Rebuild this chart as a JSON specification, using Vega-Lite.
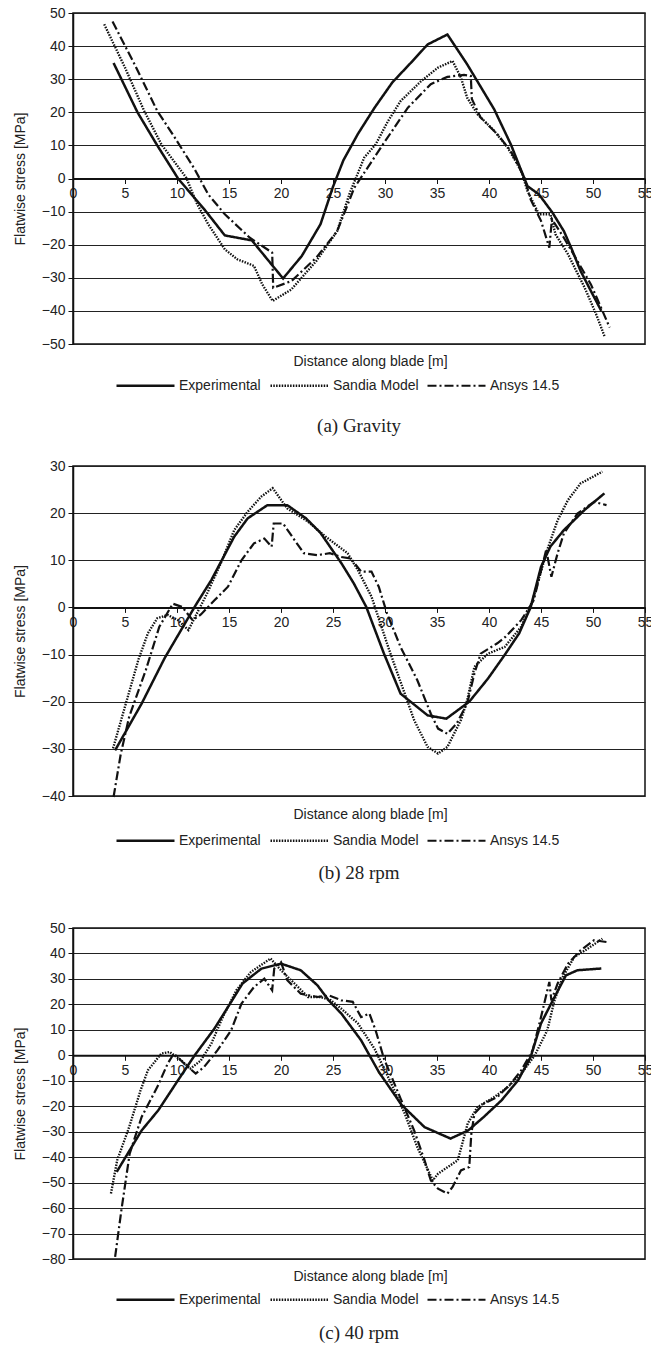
{
  "$schema": "https://vega.github.io/schema/vega-lite/v6.json",
  "padding": {"left": 12, "top": 5, "right": 0, "bottom": 0},
  "background": "white",
  "datasets": {
    "a": [
      {"series": "Experimental", "x": 3.9, "y": 34.9},
      {"series": "Experimental", "x": 6.2, "y": 20},
      {"series": "Experimental", "x": 8.1, "y": 10},
      {"series": "Experimental", "x": 10.1, "y": 0},
      {"series": "Experimental", "x": 12.7, "y": -9.6},
      {"series": "Experimental", "x": 14.6, "y": -17.2},
      {"series": "Experimental", "x": 17.2, "y": -18.7},
      {"series": "Experimental", "x": 20.2, "y": -30.2},
      {"series": "Experimental", "x": 22.0, "y": -23.4},
      {"series": "Experimental", "x": 23.8, "y": -13.8},
      {"series": "Experimental", "x": 25.0, "y": -2.5},
      {"series": "Experimental", "x": 26.0, "y": 5.5},
      {"series": "Experimental", "x": 27.4, "y": 13.5},
      {"series": "Experimental", "x": 29.0, "y": 21.4},
      {"series": "Experimental", "x": 30.7, "y": 29},
      {"series": "Experimental", "x": 32.5, "y": 35},
      {"series": "Experimental", "x": 34.1, "y": 40.5},
      {"series": "Experimental", "x": 36.0, "y": 43.5},
      {"series": "Experimental", "x": 37.9, "y": 34.5},
      {"series": "Experimental", "x": 40.5, "y": 20.9},
      {"series": "Experimental", "x": 42.1, "y": 10.3},
      {"series": "Experimental", "x": 43.7, "y": -2.3},
      {"series": "Experimental", "x": 44.8, "y": -4.8},
      {"series": "Experimental", "x": 46.1, "y": -10.3},
      {"series": "Experimental", "x": 47.2, "y": -15.9},
      {"series": "Experimental", "x": 47.9, "y": -20.9},
      {"series": "Experimental", "x": 48.8, "y": -27.9},
      {"series": "Experimental", "x": 49.8, "y": -34},
      {"series": "Experimental", "x": 50.8, "y": -40},
      {"series": "Sandia Model", "x": 3.0, "y": 46.6},
      {"series": "Sandia Model", "x": 5.0, "y": 33.5},
      {"series": "Sandia Model", "x": 6.85, "y": 20.4},
      {"series": "Sandia Model", "x": 8.5, "y": 10.3},
      {"series": "Sandia Model", "x": 10.9, "y": 0.2},
      {"series": "Sandia Model", "x": 11.9, "y": -7.5},
      {"series": "Sandia Model", "x": 13.0, "y": -13.8},
      {"series": "Sandia Model", "x": 14.6, "y": -21.4},
      {"series": "Sandia Model", "x": 15.8, "y": -24.4},
      {"series": "Sandia Model", "x": 17.4, "y": -26.4},
      {"series": "Sandia Model", "x": 18.2, "y": -32},
      {"series": "Sandia Model", "x": 19.2, "y": -37},
      {"series": "Sandia Model", "x": 21.0, "y": -33.5},
      {"series": "Sandia Model", "x": 23.4, "y": -24.9},
      {"series": "Sandia Model", "x": 25.4, "y": -15.9},
      {"series": "Sandia Model", "x": 26.6, "y": -4.5},
      {"series": "Sandia Model", "x": 28.0, "y": 6.3},
      {"series": "Sandia Model", "x": 29.1, "y": 10.3},
      {"series": "Sandia Model", "x": 30.3, "y": 17.4},
      {"series": "Sandia Model", "x": 31.5, "y": 23.4},
      {"series": "Sandia Model", "x": 33.5, "y": 29.5},
      {"series": "Sandia Model", "x": 35.1, "y": 33.5},
      {"series": "Sandia Model", "x": 36.5, "y": 35.5},
      {"series": "Sandia Model", "x": 37.3, "y": 30.5},
      {"series": "Sandia Model", "x": 37.9, "y": 24.4},
      {"series": "Sandia Model", "x": 38.9, "y": 19.4},
      {"series": "Sandia Model", "x": 40.5, "y": 14.4},
      {"series": "Sandia Model", "x": 41.8, "y": 9.3},
      {"series": "Sandia Model", "x": 43.1, "y": 2.3},
      {"series": "Sandia Model", "x": 43.7, "y": -3.8},
      {"series": "Sandia Model", "x": 44.5, "y": -8.8},
      {"series": "Sandia Model", "x": 44.8, "y": -10.8},
      {"series": "Sandia Model", "x": 45.9, "y": -10.8},
      {"series": "Sandia Model", "x": 46.4, "y": -16.9},
      {"series": "Sandia Model", "x": 47.6, "y": -22.9},
      {"series": "Sandia Model", "x": 49.2, "y": -33},
      {"series": "Sandia Model", "x": 50.3, "y": -41},
      {"series": "Sandia Model", "x": 51.1, "y": -47.6},
      {"series": "Ansys 14.5", "x": 3.8, "y": 47.4},
      {"series": "Ansys 14.5", "x": 6.0, "y": 34},
      {"series": "Ansys 14.5", "x": 8.1, "y": 20.4},
      {"series": "Ansys 14.5", "x": 9.7, "y": 12.8},
      {"series": "Ansys 14.5", "x": 11.7, "y": 2.8},
      {"series": "Ansys 14.5", "x": 13.0, "y": -4.8},
      {"series": "Ansys 14.5", "x": 14.6, "y": -10.8},
      {"series": "Ansys 14.5", "x": 17.0, "y": -17.9},
      {"series": "Ansys 14.5", "x": 19.15, "y": -22.4},
      {"series": "Ansys 14.5", "x": 19.25, "y": -33},
      {"series": "Ansys 14.5", "x": 21.0, "y": -31},
      {"series": "Ansys 14.5", "x": 23.4, "y": -23.9},
      {"series": "Ansys 14.5", "x": 25.4, "y": -15.9},
      {"series": "Ansys 14.5", "x": 27.05, "y": -2.8},
      {"series": "Ansys 14.5", "x": 29.8, "y": 10.3},
      {"series": "Ansys 14.5", "x": 32.2, "y": 21.4},
      {"series": "Ansys 14.5", "x": 34.4, "y": 28.5},
      {"series": "Ansys 14.5", "x": 36.0, "y": 30.7},
      {"series": "Ansys 14.5", "x": 37.6, "y": 31.3},
      {"series": "Ansys 14.5", "x": 38.25, "y": 31},
      {"series": "Ansys 14.5", "x": 38.35, "y": 24},
      {"series": "Ansys 14.5", "x": 39.2, "y": 18.4},
      {"series": "Ansys 14.5", "x": 40.8, "y": 13.4},
      {"series": "Ansys 14.5", "x": 42.1, "y": 8.3},
      {"series": "Ansys 14.5", "x": 43.4, "y": 0.2},
      {"series": "Ansys 14.5", "x": 44.0, "y": -6.3},
      {"series": "Ansys 14.5", "x": 45.0, "y": -12.8},
      {"series": "Ansys 14.5", "x": 45.8, "y": -20.9},
      {"series": "Ansys 14.5", "x": 46.05, "y": -12.3},
      {"series": "Ansys 14.5", "x": 47.2, "y": -17.9},
      {"series": "Ansys 14.5", "x": 48.5, "y": -24.9},
      {"series": "Ansys 14.5", "x": 49.8, "y": -32},
      {"series": "Ansys 14.5", "x": 51.6, "y": -45}
    ],
    "b": [
      {"series": "Experimental", "x": 4.05, "y": -30.3},
      {"series": "Experimental", "x": 6.6, "y": -20.4},
      {"series": "Experimental", "x": 8.8, "y": -10.8},
      {"series": "Experimental", "x": 11.8, "y": 0.5},
      {"series": "Experimental", "x": 13.3, "y": 5.8},
      {"series": "Experimental", "x": 14.4, "y": 10.4},
      {"series": "Experimental", "x": 15.5, "y": 15},
      {"series": "Experimental", "x": 16.8, "y": 18.9},
      {"series": "Experimental", "x": 18.7, "y": 21.7},
      {"series": "Experimental", "x": 20.6, "y": 21.7},
      {"series": "Experimental", "x": 22.4, "y": 18.9},
      {"series": "Experimental", "x": 23.8, "y": 15.8},
      {"series": "Experimental", "x": 24.8, "y": 12.6},
      {"series": "Experimental", "x": 25.8, "y": 9.4},
      {"series": "Experimental", "x": 27.0, "y": 5.1},
      {"series": "Experimental", "x": 28.2, "y": 0.1},
      {"series": "Experimental", "x": 29.9, "y": -9.8},
      {"series": "Experimental", "x": 31.5, "y": -18.3},
      {"series": "Experimental", "x": 34.1, "y": -22.9},
      {"series": "Experimental", "x": 35.9, "y": -23.6},
      {"series": "Experimental", "x": 38.1, "y": -20.0},
      {"series": "Experimental", "x": 39.9, "y": -15.1},
      {"series": "Experimental", "x": 41.5, "y": -10.1},
      {"series": "Experimental", "x": 42.9, "y": -5.5},
      {"series": "Experimental", "x": 44.0, "y": 0},
      {"series": "Experimental", "x": 45.0, "y": 8.6},
      {"series": "Experimental", "x": 45.9, "y": 12.9},
      {"series": "Experimental", "x": 47.2, "y": 16.4},
      {"series": "Experimental", "x": 49.2, "y": 20.7},
      {"series": "Experimental", "x": 51.1, "y": 24.2},
      {"series": "Sandia Model", "x": 3.85, "y": -29.9},
      {"series": "Sandia Model", "x": 4.9, "y": -21.8},
      {"series": "Sandia Model", "x": 6.3, "y": -11},
      {"series": "Sandia Model", "x": 7.2, "y": -5.5},
      {"series": "Sandia Model", "x": 8.1, "y": -2.3},
      {"series": "Sandia Model", "x": 9.1, "y": -1.6},
      {"series": "Sandia Model", "x": 10.1, "y": -2.7},
      {"series": "Sandia Model", "x": 11.1, "y": -4.8},
      {"series": "Sandia Model", "x": 12.9, "y": 3.0},
      {"series": "Sandia Model", "x": 14.2, "y": 9.3},
      {"series": "Sandia Model", "x": 15.5, "y": 16.4},
      {"series": "Sandia Model", "x": 16.8, "y": 20.3},
      {"series": "Sandia Model", "x": 18.1, "y": 23.5},
      {"series": "Sandia Model", "x": 19.2, "y": 25.3},
      {"series": "Sandia Model", "x": 20.6, "y": 21.0},
      {"series": "Sandia Model", "x": 22.6, "y": 18.2},
      {"series": "Sandia Model", "x": 24.3, "y": 15.0},
      {"series": "Sandia Model", "x": 26.4, "y": 11.5},
      {"series": "Sandia Model", "x": 27.4, "y": 7.9},
      {"series": "Sandia Model", "x": 28.7, "y": 2.3},
      {"series": "Sandia Model", "x": 30.4, "y": -9},
      {"series": "Sandia Model", "x": 31.9, "y": -18.3},
      {"series": "Sandia Model", "x": 32.8, "y": -23.9},
      {"series": "Sandia Model", "x": 34.1, "y": -29.6},
      {"series": "Sandia Model", "x": 35.1, "y": -31.0},
      {"series": "Sandia Model", "x": 36.0, "y": -29.6},
      {"series": "Sandia Model", "x": 37.3, "y": -23.9},
      {"series": "Sandia Model", "x": 37.9, "y": -19.7},
      {"series": "Sandia Model", "x": 38.6, "y": -12.6},
      {"series": "Sandia Model", "x": 39.9, "y": -9.8},
      {"series": "Sandia Model", "x": 41.5, "y": -8.4},
      {"series": "Sandia Model", "x": 43.1, "y": -4.1},
      {"series": "Sandia Model", "x": 44.2, "y": 1.5},
      {"series": "Sandia Model", "x": 45.6, "y": 12.2},
      {"series": "Sandia Model", "x": 46.6, "y": 18.5},
      {"series": "Sandia Model", "x": 47.6, "y": 22.8},
      {"series": "Sandia Model", "x": 48.8, "y": 26.3},
      {"series": "Sandia Model", "x": 50.9, "y": 28.8},
      {"series": "Ansys 14.5", "x": 3.9, "y": -40.2},
      {"series": "Ansys 14.5", "x": 4.6, "y": -31},
      {"series": "Ansys 14.5", "x": 5.4, "y": -23.2},
      {"series": "Ansys 14.5", "x": 7.0, "y": -13.3},
      {"series": "Ansys 14.5", "x": 8.3, "y": -4.1},
      {"series": "Ansys 14.5", "x": 9.6, "y": 0.8},
      {"series": "Ansys 14.5", "x": 10.5, "y": 0.1},
      {"series": "Ansys 14.5", "x": 11.5, "y": -2.7},
      {"series": "Ansys 14.5", "x": 12.3, "y": -1.5},
      {"series": "Ansys 14.5", "x": 13.6, "y": 1.5},
      {"series": "Ansys 14.5", "x": 14.9, "y": 4.4},
      {"series": "Ansys 14.5", "x": 16.2, "y": 10},
      {"series": "Ansys 14.5", "x": 17.4, "y": 13.6},
      {"series": "Ansys 14.5", "x": 18.4, "y": 14.6},
      {"series": "Ansys 14.5", "x": 19.1, "y": 12.9},
      {"series": "Ansys 14.5", "x": 19.3, "y": 17.8},
      {"series": "Ansys 14.5", "x": 20.2, "y": 17.8},
      {"series": "Ansys 14.5", "x": 21.3, "y": 14.3},
      {"series": "Ansys 14.5", "x": 22.2, "y": 11.5},
      {"series": "Ansys 14.5", "x": 23.5, "y": 11.1},
      {"series": "Ansys 14.5", "x": 24.7, "y": 11.5},
      {"series": "Ansys 14.5", "x": 25.8, "y": 10.7},
      {"series": "Ansys 14.5", "x": 26.7, "y": 10.4},
      {"series": "Ansys 14.5", "x": 27.7, "y": 7.6},
      {"series": "Ansys 14.5", "x": 28.7, "y": 7.6},
      {"series": "Ansys 14.5", "x": 29.4, "y": 4.4},
      {"series": "Ansys 14.5", "x": 30.2, "y": -1.3},
      {"series": "Ansys 14.5", "x": 31.5, "y": -8.4},
      {"series": "Ansys 14.5", "x": 33.1, "y": -15.4},
      {"series": "Ansys 14.5", "x": 34.4, "y": -22.5},
      {"series": "Ansys 14.5", "x": 35.1, "y": -25.7},
      {"series": "Ansys 14.5", "x": 36.0, "y": -26.8},
      {"series": "Ansys 14.5", "x": 36.9, "y": -24.6},
      {"series": "Ansys 14.5", "x": 37.9, "y": -20.4},
      {"series": "Ansys 14.5", "x": 38.6, "y": -14.0},
      {"series": "Ansys 14.5", "x": 39.2, "y": -9.8},
      {"series": "Ansys 14.5", "x": 40.8, "y": -7.6},
      {"series": "Ansys 14.5", "x": 41.6, "y": -6.2},
      {"series": "Ansys 14.5", "x": 43.1, "y": -2.7},
      {"series": "Ansys 14.5", "x": 44.3, "y": 1.5},
      {"series": "Ansys 14.5", "x": 45.5, "y": 12.2},
      {"series": "Ansys 14.5", "x": 46.0, "y": 6.5},
      {"series": "Ansys 14.5", "x": 46.6, "y": 11.5},
      {"series": "Ansys 14.5", "x": 47.2, "y": 15.7},
      {"series": "Ansys 14.5", "x": 48.5, "y": 19.9},
      {"series": "Ansys 14.5", "x": 50.1, "y": 22.4},
      {"series": "Ansys 14.5", "x": 51.3, "y": 21.7}
    ],
    "c": [
      {"series": "Experimental", "x": 4.2, "y": -45.8},
      {"series": "Experimental", "x": 6.6, "y": -29.5},
      {"series": "Experimental", "x": 8.2, "y": -21.6},
      {"series": "Experimental", "x": 10.1, "y": -9.8},
      {"series": "Experimental", "x": 11.7, "y": 0},
      {"series": "Experimental", "x": 13.6, "y": 10.5},
      {"series": "Experimental", "x": 15.0, "y": 19.6},
      {"series": "Experimental", "x": 16.3, "y": 28.2},
      {"series": "Experimental", "x": 18.1, "y": 34.0},
      {"series": "Experimental", "x": 20.0, "y": 36.0},
      {"series": "Experimental", "x": 21.9, "y": 33.4},
      {"series": "Experimental", "x": 23.5, "y": 27.5},
      {"series": "Experimental", "x": 24.6, "y": 21.5},
      {"series": "Experimental", "x": 25.8, "y": 16.4},
      {"series": "Experimental", "x": 27.7, "y": 5.9},
      {"series": "Experimental", "x": 29.4, "y": -6.5},
      {"series": "Experimental", "x": 31.6, "y": -19.5},
      {"series": "Experimental", "x": 33.8, "y": -28.2},
      {"series": "Experimental", "x": 36.3, "y": -32.7},
      {"series": "Experimental", "x": 38.0, "y": -29.5},
      {"series": "Experimental", "x": 39.5, "y": -24.2},
      {"series": "Experimental", "x": 41.2, "y": -17.7},
      {"series": "Experimental", "x": 42.8, "y": -9.8},
      {"series": "Experimental", "x": 44.0, "y": -0.7},
      {"series": "Experimental", "x": 45.0, "y": 12.5},
      {"series": "Experimental", "x": 46.3, "y": 22.9},
      {"series": "Experimental", "x": 47.4, "y": 31.4},
      {"series": "Experimental", "x": 48.5, "y": 33.4},
      {"series": "Experimental", "x": 50.8, "y": 34.1},
      {"series": "Sandia Model", "x": 3.65, "y": -54.3},
      {"series": "Sandia Model", "x": 4.25, "y": -41.2},
      {"series": "Sandia Model", "x": 5.4, "y": -28.2},
      {"series": "Sandia Model", "x": 6.5, "y": -13.7},
      {"series": "Sandia Model", "x": 7.2, "y": -5.9},
      {"series": "Sandia Model", "x": 8.5, "y": 0.7},
      {"series": "Sandia Model", "x": 9.3, "y": 1.3},
      {"series": "Sandia Model", "x": 10.4, "y": -2},
      {"series": "Sandia Model", "x": 11.3, "y": -5.2},
      {"series": "Sandia Model", "x": 12.3, "y": -2},
      {"series": "Sandia Model", "x": 13.3, "y": 4.6},
      {"series": "Sandia Model", "x": 14.4, "y": 15.0},
      {"series": "Sandia Model", "x": 15.7, "y": 25.5},
      {"series": "Sandia Model", "x": 17.1, "y": 32.7},
      {"series": "Sandia Model", "x": 19.0, "y": 38.0},
      {"series": "Sandia Model", "x": 20.0, "y": 33.4},
      {"series": "Sandia Model", "x": 21.3, "y": 28.2},
      {"series": "Sandia Model", "x": 22.6, "y": 22.9},
      {"series": "Sandia Model", "x": 23.8, "y": 22.9},
      {"series": "Sandia Model", "x": 24.8, "y": 21.6},
      {"series": "Sandia Model", "x": 25.8, "y": 18.3},
      {"series": "Sandia Model", "x": 27.4, "y": 12.5},
      {"series": "Sandia Model", "x": 29.0, "y": 2.5},
      {"series": "Sandia Model", "x": 30.6, "y": -11.1},
      {"series": "Sandia Model", "x": 31.9, "y": -22.9},
      {"series": "Sandia Model", "x": 33.1, "y": -36.0},
      {"series": "Sandia Model", "x": 34.6, "y": -49.1},
      {"series": "Sandia Model", "x": 35.1, "y": -46.5},
      {"series": "Sandia Model", "x": 37.0, "y": -41.2},
      {"series": "Sandia Model", "x": 37.95, "y": -26.8},
      {"series": "Sandia Model", "x": 38.9, "y": -20.3},
      {"series": "Sandia Model", "x": 40.5, "y": -16.4},
      {"series": "Sandia Model", "x": 41.8, "y": -12.5},
      {"series": "Sandia Model", "x": 43.1, "y": -7.2},
      {"series": "Sandia Model", "x": 44.4, "y": 0},
      {"series": "Sandia Model", "x": 45.6, "y": 9.8},
      {"series": "Sandia Model", "x": 46.3, "y": 21.6},
      {"series": "Sandia Model", "x": 47.1, "y": 30.8},
      {"series": "Sandia Model", "x": 48.2, "y": 38.6},
      {"series": "Sandia Model", "x": 49.5, "y": 41.9},
      {"series": "Sandia Model", "x": 50.9, "y": 45.8},
      {"series": "Ansys 14.5", "x": 4.05, "y": -79.2},
      {"series": "Ansys 14.5", "x": 4.65, "y": -60.9},
      {"series": "Ansys 14.5", "x": 5.45, "y": -38.6},
      {"series": "Ansys 14.5", "x": 6.6, "y": -24.2},
      {"series": "Ansys 14.5", "x": 8.1, "y": -12.5},
      {"series": "Ansys 14.5", "x": 9.1, "y": -3.3},
      {"series": "Ansys 14.5", "x": 9.7, "y": 0.7},
      {"series": "Ansys 14.5", "x": 10.7, "y": -3.3},
      {"series": "Ansys 14.5", "x": 11.8, "y": -7.2},
      {"series": "Ansys 14.5", "x": 12.6, "y": -4.6},
      {"series": "Ansys 14.5", "x": 13.9, "y": 2},
      {"series": "Ansys 14.5", "x": 15.2, "y": 9.8},
      {"series": "Ansys 14.5", "x": 16.2, "y": 20.3},
      {"series": "Ansys 14.5", "x": 17.4, "y": 26.8},
      {"series": "Ansys 14.5", "x": 18.4, "y": 30.1},
      {"series": "Ansys 14.5", "x": 19.15, "y": 25.5},
      {"series": "Ansys 14.5", "x": 19.35, "y": 34.1},
      {"series": "Ansys 14.5", "x": 20.0, "y": 36.6},
      {"series": "Ansys 14.5", "x": 20.6, "y": 29.5},
      {"series": "Ansys 14.5", "x": 21.9, "y": 24.2},
      {"series": "Ansys 14.5", "x": 23.5, "y": 22.9},
      {"series": "Ansys 14.5", "x": 24.6, "y": 23.5},
      {"series": "Ansys 14.5", "x": 25.8, "y": 21.6},
      {"series": "Ansys 14.5", "x": 26.9, "y": 21.0},
      {"series": "Ansys 14.5", "x": 27.7, "y": 15.0},
      {"series": "Ansys 14.5", "x": 28.5, "y": 16.4},
      {"series": "Ansys 14.5", "x": 29.1, "y": 9.8},
      {"series": "Ansys 14.5", "x": 29.9, "y": -1.3},
      {"series": "Ansys 14.5", "x": 31.5, "y": -17},
      {"series": "Ansys 14.5", "x": 32.8, "y": -29.5},
      {"series": "Ansys 14.5", "x": 33.8, "y": -41.2},
      {"series": "Ansys 14.5", "x": 34.4, "y": -49.1},
      {"series": "Ansys 14.5", "x": 35.1, "y": -52.4},
      {"series": "Ansys 14.5", "x": 36.0, "y": -54.3},
      {"series": "Ansys 14.5", "x": 36.5, "y": -51.7},
      {"series": "Ansys 14.5", "x": 37.3, "y": -45.2},
      {"series": "Ansys 14.5", "x": 38.1, "y": -43.9},
      {"series": "Ansys 14.5", "x": 38.3, "y": -30.8},
      {"series": "Ansys 14.5", "x": 38.6, "y": -22.9},
      {"series": "Ansys 14.5", "x": 39.5, "y": -19.0},
      {"series": "Ansys 14.5", "x": 40.8, "y": -16.4},
      {"series": "Ansys 14.5", "x": 42.1, "y": -11.1},
      {"series": "Ansys 14.5", "x": 43.1, "y": -5.9},
      {"series": "Ansys 14.5", "x": 44.2, "y": 2},
      {"series": "Ansys 14.5", "x": 45.0, "y": 15.0},
      {"series": "Ansys 14.5", "x": 45.8, "y": 28.8},
      {"series": "Ansys 14.5", "x": 46.0, "y": 21.6},
      {"series": "Ansys 14.5", "x": 46.6, "y": 28.2},
      {"series": "Ansys 14.5", "x": 47.6, "y": 36.0},
      {"series": "Ansys 14.5", "x": 48.8, "y": 41.2},
      {"series": "Ansys 14.5", "x": 50.1, "y": 45.2},
      {"series": "Ansys 14.5", "x": 51.3, "y": 44.5}
    ]
  },
  "vconcat": [
    {
      "vconcat": [
        {
          "data": {"name": "a"},
          "width": 572,
          "height": 331,
          "title": {"text": "(a) Gravity", "orient": "bottom", "anchor": "middle", "frame": "group", "offset": 24},
          "mark": {"type": "line", "color": "#111", "strokeCap": "butt", "strokeJoin": "miter"},
          "encoding": {
            "x": {"field": "x", "type": "quantitative", "scale": {"domain": [0, 55], "nice": false, "zero": false},
              "axis": {"offset": -165.5, "values": [0,5,10,15,20,25,30,35,40,45,50,55], "title": "Distance along blade [m]", "titleX": 297, "titleY": 182.5}},
            "y": {"field": "y", "type": "quantitative", "scale": {"domain": [-50, 50], "nice": false},
              "axis": {"values": [-50,-40,-30,-20,-10,0,10,20,30,40,50], "grid": true, "title": "Flatwise stress [MPa]"}},
            "strokeDash": {"field": "series", "type": "nominal", "scale": {"domain": ["Experimental", "Sandia Model", "Ansys 14.5"], "range": [[1, 0], [1.5, 1.3], [9, 3, 2, 3]]},
              "legend": {"orient": "none", "legendX": 42, "legendY": 342}},
            "strokeWidth": {"field": "series", "type": "ordinal", "scale": {"domain": ["Experimental", "Sandia Model", "Ansys 14.5"], "range": [2.5, 2.2, 2.5]},
              "legend": {"orient": "none", "legendX": 42, "legendY": 342}}
          }
        },
        {
          "data": {"name": "b"},
          "width": 572,
          "height": 330,
          "title": {"text": "(b) 28 rpm", "orient": "bottom", "anchor": "middle", "frame": "group", "offset": 16},
          "mark": {"type": "line", "color": "#111", "strokeCap": "butt", "strokeJoin": "miter"},
          "encoding": {
            "x": {"field": "x", "type": "quantitative", "scale": {"domain": [0, 55], "nice": false, "zero": false},
              "axis": {"offset": -188.6, "values": [0,5,10,15,20,25,30,35,40,45,50,55], "title": "Distance along blade [m]", "titleX": 297, "titleY": 207}},
            "y": {"field": "y", "type": "quantitative", "scale": {"domain": [-40, 30], "nice": false},
              "axis": {"values": [-40,-30,-20,-10,0,10,20,30], "grid": true, "title": "Flatwise stress [MPa]"}},
            "strokeDash": {"field": "series", "type": "nominal", "scale": {"domain": ["Experimental", "Sandia Model", "Ansys 14.5"], "range": [[1, 0], [1.5, 1.3], [9, 3, 2, 3]]},
              "legend": {"orient": "none", "legendX": 42, "legendY": 344}},
            "strokeWidth": {"field": "series", "type": "ordinal", "scale": {"domain": ["Experimental", "Sandia Model", "Ansys 14.5"], "range": [2.5, 2.2, 2.5]},
              "legend": {"orient": "none", "legendX": 42, "legendY": 344}}
          }
        }
      ],
      "spacing": 21,
      "resolve": {"scale": {"strokeDash": "independent", "strokeWidth": "independent"}, "legend": {"strokeDash": "independent", "strokeWidth": "independent"}}
    },
    {
      "data": {"name": "c"},
      "width": 572,
      "height": 331,
      "title": {"text": "(c) 40 rpm", "orient": "bottom", "anchor": "middle", "frame": "group", "offset": 17},
      "mark": {"type": "line", "color": "#111", "strokeCap": "butt", "strokeJoin": "miter"},
      "encoding": {
        "x": {"field": "x", "type": "quantitative", "scale": {"domain": [0, 55], "nice": false, "zero": false},
          "axis": {"offset": -203.7, "values": [0,5,10,15,20,25,30,35,40,45,50,55], "title": "Distance along blade [m]", "titleX": 297, "titleY": 220.7}},
        "y": {"field": "y", "type": "quantitative", "scale": {"domain": [-80, 50], "nice": false},
          "axis": {"values": [-80,-70,-60,-50,-40,-30,-20,-10,0,10,20,30,40,50], "grid": true, "title": "Flatwise stress [MPa]"}},
        "strokeDash": {"field": "series", "type": "nominal", "scale": {"domain": ["Experimental", "Sandia Model", "Ansys 14.5"], "range": [[1, 0], [1.5, 1.3], [9, 3, 2, 3]]},
          "legend": {"orient": "none", "legendX": 42, "legendY": 341}},
        "strokeWidth": {"field": "series", "type": "ordinal", "scale": {"domain": ["Experimental", "Sandia Model", "Ansys 14.5"], "range": [2.5, 2.2, 2.5]},
          "legend": {"orient": "none", "legendX": 42, "legendY": 341}}
      }
    }
  ],
  "spacing": 36,
  "resolve": {"scale": {"strokeDash": "independent", "strokeWidth": "independent"}, "legend": {"strokeDash": "independent", "strokeWidth": "independent"}},
  "config": {
    "font": "Liberation Sans",
    "view": {"stroke": "#111", "strokeWidth": 1.5},
    "axis": {
      "labelFont": "Liberation Sans", "labelFontSize": 14, "labelColor": "#222", "labelFlush": false, "labelOverlap": false,
      "titleFont": "Liberation Sans", "titleFontSize": 14, "titleFontWeight": "normal", "titleColor": "#222",
      "domainColor": "#111", "domainWidth": 1.5, "tickColor": "#111", "tickSize": 5, "tickWidth": 1,
      "gridColor": "#222", "gridOpacity": 1, "gridWidth": 1, "labelPadding": 3
    },
    "axisX": {"grid": false, "domainWidth": 2, "labelPadding": 3, "titleBaseline": "middle", "titleAlign": "center"},
    "axisY": {"titlePadding": 14},
    "legend": {
      "title": null, "direction": "horizontal", "symbolType": "stroke", "symbolSize": 3364,
      "symbolStrokeColor": "#111", "labelFont": "Liberation Sans", "labelFontSize": 14, "labelColor": "#222",
      "labelOffset": 3, "columnPadding": 4, "padding": 0
    },
    "title": {"font": "Liberation Serif", "fontSize": 19, "fontWeight": "normal", "color": "#222"}
  }
}
